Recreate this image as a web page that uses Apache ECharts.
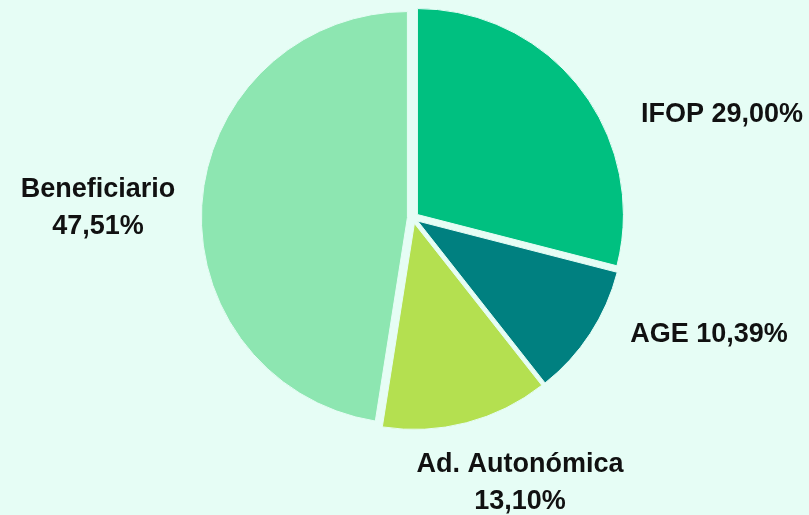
<!DOCTYPE html>
<html>
<head>
<meta charset="utf-8">
<script src="https://cdn.jsdelivr.net/npm/echarts@6/dist/echarts.min.js"></script>
<style>
  html, body { margin: 0; padding: 0; background: #e6fdf5; }
  #chart { width: 809px; height: 515px; }
</style>
</head>
<body>
<div id="chart"></div>
<script>
// slices, clockwise from the top
var categories = ['IFOP', 'AGE', 'Ad. Autonómica', 'Beneficiario']
var shares = [29.00, 10.39, 13.10, 47.51]
var sliceColors = ['#00c080', '#008080', '#b4e050', '#8de6b1']
// label placement (center of the text block) and line break per slice
var labelAnchors = [[722, 115], [709, 335], [520, 483], [98, 208]]
var labelSeparators = [' ', ' ', '\n', '\n']

var fmt = function (v) {
  return v.toFixed(2).replace('.', ',') + '%'
}

var pieCenter = [413, 218]
var pieRadius = 206

var chart = echarts.init(document.getElementById('chart'))
var option = {
  backgroundColor: '#e6fdf5',
  animation: false,
  series: [{
    // exploded slices
    type: 'pie',
    center: pieCenter,
    radius: pieRadius,
    startAngle: 90,
    silent: true,
    selectedMode: 'multiple',
    selectedOffset: 5.6,
    itemStyle: {
      borderColor: '#e6fdf5',
      borderWidth: 1
    },
    label: { show: false },
    labelLine: { show: false },
    data: categories.map(function (name, i) {
      return {
        name: name,
        value: shares[i],
        selected: true,
        itemStyle: { color: sliceColors[i] }
      }
    })
  }, {
    // labels only
    type: 'pie',
    center: pieCenter,
    radius: pieRadius,
    startAngle: 90,
    silent: true,
    avoidLabelOverlap: false,
    itemStyle: { color: 'rgba(0,0,0,0)' },
    label: {
      show: true,
      position: 'outside',
      color: '#111',
      fontFamily: 'Liberation Sans',
      fontWeight: 'bold',
      fontSize: 27,
      lineHeight: 37,
      align: 'center',
      formatter: function (p) {
        return p.name + labelSeparators[p.dataIndex] + fmt(p.value)
      }
    },
    labelLine: { show: false },
    labelLayout: function (p) {
      var a = labelAnchors[p.dataIndex]
      return { x: a[0], y: a[1], align: 'center', verticalAlign: 'middle' }
    },
    data: categories.map(function (name, i) {
      return { name: name, value: shares[i] }
    })
  }]
}
chart.setOption(option)
</script>
</body>
</html>
